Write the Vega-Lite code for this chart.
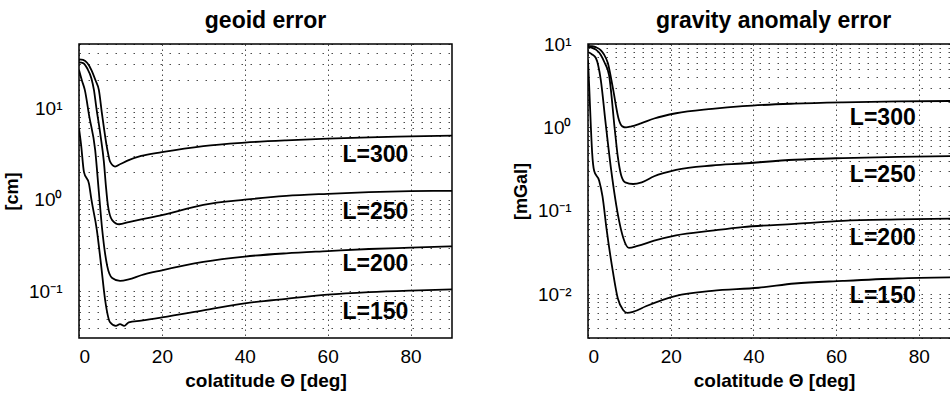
{
  "$schema": "https://vega.github.io/schema/vega-lite/v6.json",
  "padding": {"left": 2, "top": 9, "right": 0, "bottom": 0},
  "background": "white",
  "spacing": 58,
  "config": {
    "font": "Liberation Sans",
    "view": {"stroke": "#000", "strokeWidth": 1.5},
    "axis": {"domain": false, "ticks": false, "labelColor": "#000", "titleColor": "#000", "labelFont": "Liberation Sans", "titleFont": "Liberation Sans", "gridColor": "#000", "gridOpacity": 0.7, "gridWidth": 1},
    "title": {"font": "Liberation Sans", "fontSize": 23, "fontWeight": "bold", "color": "#000", "offset": 2}
  },
  "datasets": {
    "geoid": [
      {"L": "300", "theta": 0, "value": 34}, {"L": "300", "theta": 1, "value": 33.5}, {"L": "300", "theta": 2, "value": 31}, {"L": "300", "theta": 3, "value": 26}, {"L": "300", "theta": 4, "value": 20}, {"L": "300", "theta": 4.8, "value": 15.7}, {"L": "300", "theta": 5.5, "value": 9}, {"L": "300", "theta": 6.8, "value": 3.6}, {"L": "300", "theta": 7.5, "value": 2.6}, {"L": "300", "theta": 8.7, "value": 2.3}, {"L": "300", "theta": 10, "value": 2.45}, {"L": "300", "theta": 12, "value": 2.7}, {"L": "300", "theta": 15, "value": 3.0}, {"L": "300", "theta": 20, "value": 3.3}, {"L": "300", "theta": 30, "value": 3.85}, {"L": "300", "theta": 40, "value": 4.2}, {"L": "300", "theta": 50, "value": 4.45}, {"L": "300", "theta": 60, "value": 4.65}, {"L": "300", "theta": 70, "value": 4.8}, {"L": "300", "theta": 80, "value": 4.9}, {"L": "300", "theta": 90, "value": 5.0},
      {"L": "250", "theta": 0, "value": 31.5}, {"L": "250", "theta": 1, "value": 31}, {"L": "250", "theta": 2, "value": 27}, {"L": "250", "theta": 3, "value": 21}, {"L": "250", "theta": 3.6, "value": 15.8}, {"L": "250", "theta": 4.2, "value": 10}, {"L": "250", "theta": 5.2, "value": 5}, {"L": "250", "theta": 6.0, "value": 2.6}, {"L": "250", "theta": 6.5, "value": 1.4}, {"L": "250", "theta": 7.0, "value": 0.85}, {"L": "250", "theta": 8.0, "value": 0.6}, {"L": "250", "theta": 9.7, "value": 0.54}, {"L": "250", "theta": 12, "value": 0.57}, {"L": "250", "theta": 15, "value": 0.61}, {"L": "250", "theta": 20, "value": 0.68}, {"L": "250", "theta": 30, "value": 0.88}, {"L": "250", "theta": 40, "value": 1.0}, {"L": "250", "theta": 50, "value": 1.1}, {"L": "250", "theta": 60, "value": 1.16}, {"L": "250", "theta": 70, "value": 1.21}, {"L": "250", "theta": 80, "value": 1.24}, {"L": "250", "theta": 90, "value": 1.25},
      {"L": "200", "theta": 0, "value": 26}, {"L": "200", "theta": 0.7, "value": 20}, {"L": "200", "theta": 1.4, "value": 15.8}, {"L": "200", "theta": 2.5, "value": 8}, {"L": "200", "theta": 3.9, "value": 3.5}, {"L": "200", "theta": 4.8, "value": 1.2}, {"L": "200", "theta": 5.6, "value": 0.47}, {"L": "200", "theta": 6.8, "value": 0.19}, {"L": "200", "theta": 8, "value": 0.14}, {"L": "200", "theta": 9.9, "value": 0.13}, {"L": "200", "theta": 12, "value": 0.135}, {"L": "200", "theta": 15, "value": 0.15}, {"L": "200", "theta": 20, "value": 0.17}, {"L": "200", "theta": 30, "value": 0.21}, {"L": "200", "theta": 40, "value": 0.24}, {"L": "200", "theta": 50, "value": 0.26}, {"L": "200", "theta": 60, "value": 0.275}, {"L": "200", "theta": 70, "value": 0.29}, {"L": "200", "theta": 80, "value": 0.3}, {"L": "200", "theta": 90, "value": 0.31},
      {"L": "150", "theta": 0, "value": 6}, {"L": "150", "theta": 0.5, "value": 4}, {"L": "150", "theta": 1.2, "value": 2.0}, {"L": "150", "theta": 2.4, "value": 1.5}, {"L": "150", "theta": 3.0, "value": 1.0}, {"L": "150", "theta": 4.3, "value": 0.47}, {"L": "150", "theta": 5.3, "value": 0.2}, {"L": "150", "theta": 6.3, "value": 0.081}, {"L": "150", "theta": 7.5, "value": 0.046}, {"L": "150", "theta": 8.9, "value": 0.042}, {"L": "150", "theta": 9.9, "value": 0.044}, {"L": "150", "theta": 10.9, "value": 0.042}, {"L": "150", "theta": 12, "value": 0.046}, {"L": "150", "theta": 15, "value": 0.048}, {"L": "150", "theta": 20, "value": 0.052}, {"L": "150", "theta": 30, "value": 0.062}, {"L": "150", "theta": 40, "value": 0.074}, {"L": "150", "theta": 50, "value": 0.083}, {"L": "150", "theta": 60, "value": 0.092}, {"L": "150", "theta": 70, "value": 0.098}, {"L": "150", "theta": 80, "value": 0.102}, {"L": "150", "theta": 90, "value": 0.105}
    ],
    "gravity": [
      {"L": "300", "theta": 0, "value": 9.5}, {"L": "300", "theta": 1, "value": 9.4}, {"L": "300", "theta": 2, "value": 9.1}, {"L": "300", "theta": 3, "value": 8.5}, {"L": "300", "theta": 3.8, "value": 7.6}, {"L": "300", "theta": 4.8, "value": 5.9}, {"L": "300", "theta": 6, "value": 3}, {"L": "300", "theta": 7.5, "value": 1.22}, {"L": "300", "theta": 8.3, "value": 1.03}, {"L": "300", "theta": 9.2, "value": 1.0}, {"L": "300", "theta": 10.5, "value": 1.03}, {"L": "300", "theta": 12.8, "value": 1.12}, {"L": "300", "theta": 16, "value": 1.28}, {"L": "300", "theta": 21.3, "value": 1.48}, {"L": "300", "theta": 30, "value": 1.67}, {"L": "300", "theta": 37.4, "value": 1.8}, {"L": "300", "theta": 50, "value": 1.93}, {"L": "300", "theta": 61.6, "value": 2.0}, {"L": "300", "theta": 75, "value": 2.05}, {"L": "300", "theta": 90, "value": 2.08},
      {"L": "250", "theta": 0, "value": 9.2}, {"L": "250", "theta": 1, "value": 9.0}, {"L": "250", "theta": 2, "value": 8.5}, {"L": "250", "theta": 3.1, "value": 7.4}, {"L": "250", "theta": 4, "value": 6}, {"L": "250", "theta": 5.1, "value": 4.2}, {"L": "250", "theta": 6.5, "value": 0.92}, {"L": "250", "theta": 7.2, "value": 0.45}, {"L": "250", "theta": 8.0, "value": 0.27}, {"L": "250", "theta": 9, "value": 0.22}, {"L": "250", "theta": 10.9, "value": 0.21}, {"L": "250", "theta": 13, "value": 0.22}, {"L": "250", "theta": 16, "value": 0.26}, {"L": "250", "theta": 21.3, "value": 0.31}, {"L": "250", "theta": 30, "value": 0.35}, {"L": "250", "theta": 37.4, "value": 0.37}, {"L": "250", "theta": 50, "value": 0.41}, {"L": "250", "theta": 61.6, "value": 0.43}, {"L": "250", "theta": 75, "value": 0.445}, {"L": "250", "theta": 90, "value": 0.455},
      {"L": "200", "theta": 0, "value": 8.0}, {"L": "200", "theta": 1, "value": 7.5}, {"L": "200", "theta": 1.9, "value": 6.8}, {"L": "200", "theta": 3.1, "value": 3.7}, {"L": "200", "theta": 4.2, "value": 1.2}, {"L": "200", "theta": 5.6, "value": 0.31}, {"L": "200", "theta": 7.5, "value": 0.077}, {"L": "200", "theta": 8.5, "value": 0.048}, {"L": "200", "theta": 9.9, "value": 0.036}, {"L": "200", "theta": 12, "value": 0.038}, {"L": "200", "theta": 16, "value": 0.044}, {"L": "200", "theta": 21.3, "value": 0.051}, {"L": "200", "theta": 30, "value": 0.058}, {"L": "200", "theta": 37.4, "value": 0.064}, {"L": "200", "theta": 50, "value": 0.07}, {"L": "200", "theta": 61.6, "value": 0.076}, {"L": "200", "theta": 75, "value": 0.079}, {"L": "200", "theta": 90, "value": 0.081},
      {"L": "150", "theta": 0, "value": 6.4}, {"L": "150", "theta": 0.3, "value": 3}, {"L": "150", "theta": 0.7, "value": 1.0}, {"L": "150", "theta": 1.0, "value": 0.5}, {"L": "150", "theta": 1.5, "value": 0.3}, {"L": "150", "theta": 2.7, "value": 0.23}, {"L": "150", "theta": 3.5, "value": 0.15}, {"L": "150", "theta": 4.5, "value": 0.06}, {"L": "150", "theta": 6, "value": 0.019}, {"L": "150", "theta": 7.2, "value": 0.009}, {"L": "150", "theta": 8.5, "value": 0.0065}, {"L": "150", "theta": 9.5, "value": 0.006}, {"L": "150", "theta": 11, "value": 0.0062}, {"L": "150", "theta": 14, "value": 0.0072}, {"L": "150", "theta": 21.3, "value": 0.0096}, {"L": "150", "theta": 30, "value": 0.011}, {"L": "150", "theta": 41.3, "value": 0.012}, {"L": "150", "theta": 50, "value": 0.0135}, {"L": "150", "theta": 61.6, "value": 0.0145}, {"L": "150", "theta": 75, "value": 0.0155}, {"L": "150", "theta": 90, "value": 0.016}
    ],
    "geoidLabels": [
      {"label": "L=300", "theta": 71.5, "value": 3.1},
      {"label": "L=250", "theta": 71.5, "value": 0.74},
      {"label": "L=200", "theta": 71.5, "value": 0.2},
      {"label": "L=150", "theta": 71.5, "value": 0.06}
    ],
    "gravityLabels": [
      {"label": "L=300", "theta": 71.3, "value": 1.29},
      {"label": "L=250", "theta": 71.3, "value": 0.27},
      {"label": "L=200", "theta": 71.3, "value": 0.048},
      {"label": "L=150", "theta": 71.3, "value": 0.0096}
    ]
  },
  "hconcat": [
    {
      "width": 373,
      "height": 294,
      "title": {"text": "geoid error"},
      "encoding": {
        "x": {"field": "theta", "type": "quantitative", "scale": {"domain": [0, 90], "nice": false, "zero": false},
          "axis": {"values": [0, 20, 40, 60, 80], "title": "colatitude Θ [deg]", "titleFontSize": 19, "titleFontWeight": "bold", "labelFontSize": 19, "labelPadding": 9, "titlePadding": 5, "gridDash": [1.5, 3.5]}},
        "y": {"field": "value", "type": "quantitative", "scale": {"type": "log", "domain": [0.031, 50], "nice": false},
          "axis": {"values": [0.04, 0.05, 0.06, 0.07, 0.08, 0.09, 0.1, 0.2, 0.3, 0.4, 0.5, 0.6, 0.7, 0.8, 0.9, 1, 2, 3, 4, 5, 6, 7, 8, 9, 10, 20, 30, 40, 50],
            "labelExpr": "abs(log(datum.value)/LN10 - round(log(datum.value)/LN10)) < 0.001 ? '10' + (round(log(datum.value)/LN10) == 1 ? '¹' : round(log(datum.value)/LN10) == 0 ? '⁰' : round(log(datum.value)/LN10) == -1 ? '⁻¹' : '⁻²') : ''",
            "labelOverlap": false, "labelFontSize": 19, "labelPadding": 17, "title": "[cm]", "titleFontSize": 18, "titleFontWeight": "bold", "titlePadding": 7, "gridDash": [1.5, 7.5]}}
      },
      "layer": [
        {"data": {"name": "geoid"}, "mark": {"type": "line", "color": "#000", "strokeWidth": 1.8, "interpolate": "monotone", "clip": true}, "encoding": {"detail": {"field": "L"}}},
        {"data": {"name": "geoidLabels"}, "mark": {"type": "text", "fontSize": 23, "fontWeight": "bold", "color": "#000", "align": "center", "baseline": "middle"}, "encoding": {"text": {"field": "label"}}}
      ]
    },
    {
      "width": 363,
      "height": 294,
      "title": {"text": "gravity anomaly error", "dx": 4},
      "encoding": {
        "x": {"field": "theta", "type": "quantitative", "scale": {"domain": [0, 87.8], "nice": false, "zero": false},
          "axis": {"values": [0, 20, 40, 60, 80], "title": "colatitude Θ [deg]", "titleX": 186, "titleFontSize": 19, "titleFontWeight": "bold", "labelFontSize": 19, "labelPadding": 9, "titlePadding": 5, "gridDash": [1.5, 3.5]}},
        "y": {"field": "value", "type": "quantitative", "scale": {"type": "log", "domain": [0.003, 10], "nice": false},
          "axis": {"values": [0.003, 0.004, 0.005, 0.006, 0.007, 0.008, 0.009, 0.01, 0.02, 0.03, 0.04, 0.05, 0.06, 0.07, 0.08, 0.09, 0.1, 0.2, 0.3, 0.4, 0.5, 0.6, 0.7, 0.8, 0.9, 1, 2, 3, 4, 5, 6, 7, 8, 9, 10],
            "labelExpr": "abs(log(datum.value)/LN10 - round(log(datum.value)/LN10)) < 0.001 ? '10' + (round(log(datum.value)/LN10) == 1 ? '¹' : round(log(datum.value)/LN10) == 0 ? '⁰' : round(log(datum.value)/LN10) == -1 ? '⁻¹' : '⁻²') : ''",
            "labelOverlap": false, "labelFontSize": 19, "labelPadding": 17, "title": "[mGal]", "titleFontSize": 18, "titleFontWeight": "bold", "titlePadding": 7, "gridDash": [1.5, 7.5]}}
      },
      "layer": [
        {"data": {"name": "gravity"}, "mark": {"type": "line", "color": "#000", "strokeWidth": 1.8, "interpolate": "monotone", "clip": true}, "encoding": {"detail": {"field": "L"}}},
        {"data": {"name": "gravityLabels"}, "mark": {"type": "text", "fontSize": 23, "fontWeight": "bold", "color": "#000", "align": "center", "baseline": "middle"}, "encoding": {"text": {"field": "label"}}}
      ]
    }
  ]
}
